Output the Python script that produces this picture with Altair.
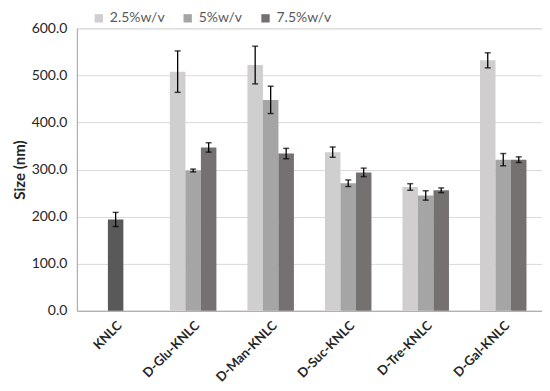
import altair as alt
import pandas as pd

categories = ["KNLC", "D-Glu-KNLC", "D-Man-KNLC", "D-Suc-KNLC", "D-Tre-KNLC", "D-Gal-KNLC"]
series = ["2.5%w/v", "5%w/v", "7.5%w/v"]
colors = ["#D0CECE", "#A5A5A5", "#767171"]

# grouped values (KNLC has a single control bar)
knlc_value = [194]
knlc_err = [15]
vals_25 = [508, 522, 337, 263, 532]
vals_5 = [298, 448, 271, 245, 321]
vals_75 = [347, 334, 294, 256, 321]
err_25 = [44, 40, 11, 7, 16]
err_5 = [3, 29, 7, 10, 13]
err_75 = [10, 11, 9, 5, 6]

rows = []
for i, cat in enumerate(categories[1:]):
    for s, v, e in zip(series, [vals_25, vals_5, vals_75], [err_25, err_5, err_75]):
        rows.append({"cat": cat, "series": s, "value": v[i], "lo": v[i] - e[i], "hi": v[i] + e[i]})
df = pd.DataFrame(rows)
df_k = pd.DataFrame({"cat": ["KNLC"], "value": knlc_value,
                     "lo": [knlc_value[0] - knlc_err[0]], "hi": [knlc_value[0] + knlc_err[0]]})

font = "Lato"
xenc = alt.X("cat:N", sort=categories, scale=alt.Scale(domain=categories, paddingInner=0.4, paddingOuter=0.2),
             axis=alt.Axis(title=None, labelAngle=-45, labelFontWeight="bold", labelFontSize=13,
                           labelColor="#262626", ticks=False, domainColor="#A6A6A6", labelPadding=8))
yenc_scale = alt.Scale(domain=[0, 600])
yaxis = alt.Axis(title="Size (nm)", titleFontSize=15, titleFontWeight="bold", titleColor="#262626",
                 format=".1f", values=[0, 100, 200, 300, 400, 500, 600], labelFontSize=14,
                 labelColor="#262626", ticks=False, domainColor="#A6A6A6", gridColor="#D9D9D9",
                 labelPadding=10, titlePadding=4)

off = alt.XOffset("series:N", sort=series, scale=alt.Scale(paddingInner=0))

bars = alt.Chart(df).mark_bar().encode(
    x=xenc,
    xOffset=off,
    y=alt.Y("value:Q", scale=yenc_scale, axis=yaxis),
    color=alt.Color("series:N", sort=series, scale=alt.Scale(domain=series, range=colors),
                    legend=alt.Legend(title=None, orient="none", direction="horizontal",
                                      legendX=15, legendY=-17, symbolType="square", symbolSize=70,
                                      symbolStrokeWidth=0, labelFontSize=14, labelColor="#595959",
                                      columnPadding=16, labelFont=font)),
)
rules = alt.Chart(df).mark_rule(color="black", strokeWidth=1.3).encode(
    x=xenc, xOffset=off, y="lo:Q", y2="hi:Q")
caps_lo = alt.Chart(df).mark_tick(color="black", thickness=1.5, size=6).encode(
    x=xenc, xOffset=off, y="lo:Q")
caps_hi = alt.Chart(df).mark_tick(color="black", thickness=1.5, size=6).encode(
    x=xenc, xOffset=off, y="hi:Q")

kbar = alt.Chart(df_k).mark_bar(width=15.5, color="#595959").encode(x=xenc, y="value:Q")
krule = alt.Chart(df_k).mark_rule(color="black", strokeWidth=1.3).encode(x=xenc, y="lo:Q", y2="hi:Q")
kcap1 = alt.Chart(df_k).mark_tick(color="black", thickness=1.5, size=6).encode(x=xenc, y="lo:Q")
kcap2 = alt.Chart(df_k).mark_tick(color="black", thickness=1.5, size=6).encode(x=xenc, y="hi:Q")

chart = alt.layer(bars, kbar, rules, caps_lo, caps_hi, krule, kcap1, kcap2).properties(
    width=466, height=283,
    autosize=alt.AutoSizeParams(type="none"),
    padding={"left": 69, "top": 20, "right": 0, "bottom": 80},
).configure_view(stroke="#A6A6A6").configure(font=font)

chart.save("out.html", embed_options={"renderer": "svg", "actions": False})
